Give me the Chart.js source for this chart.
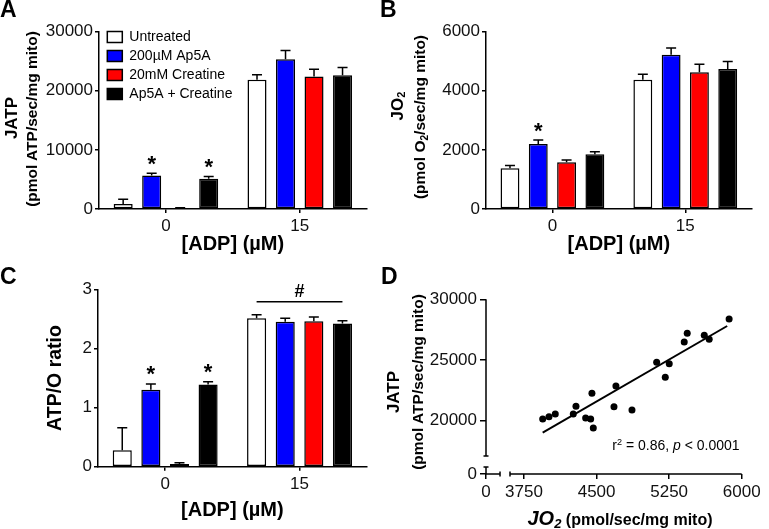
<!DOCTYPE html>
<html><head><meta charset="utf-8">
<script src="https://cdn.jsdelivr.net/npm/chart.js@4.4.0/dist/chart.umd.min.js"></script>
<style>
html,body{margin:0;padding:0;background:#fff;}
#wrap{position:relative;width:769px;height:529px;overflow:hidden;font-family:'Liberation Sans',Arial,Helvetica,sans-serif;color:#000;}
canvas{position:absolute;}
.t{position:absolute;white-space:nowrap;font-weight:bold;line-height:1;}
.rot{transform:translate(-50%,-50%) rotate(-90deg);}
.ctr{transform:translate(-50%,-50%);}
.letter{font-size:23px;}
sub{font-size:0.65em;vertical-align:-0.25em;line-height:0;}
sup{font-size:0.65em;vertical-align:0.5em;line-height:0;}
</style></head><body><div id="wrap">
<canvas id="cA" width="384" height="260" style="left:0;top:0"></canvas>
<canvas id="cB" width="385" height="260" style="left:384px;top:0"></canvas>
<canvas id="cC" width="384" height="269" style="left:0;top:260px"></canvas>
<canvas id="cD" width="385" height="269" style="left:384px;top:260px"></canvas>

<div class="t letter" style="left:0;top:-2px">A</div>
<div class="t letter" style="left:380px;top:-2px">B</div>
<div class="t letter" style="left:0;top:265px">C</div>
<div class="t letter" style="left:381px;top:265px">D</div>

<div class="t rot" style="left:11px;top:118px;font-size:17px">JATP</div>
<div class="t rot" style="left:32px;top:118.5px;font-size:15.5px">(pmol ATP/sec/mg mito)</div>

<div class="t rot" style="left:397px;top:106px;font-size:17px">JO<sub>2</sub></div>
<div class="t rot" style="left:420px;top:116.5px;font-size:15.5px">(pmol O<sub>2</sub>/sec/mg mito)</div>

<div class="t rot" style="left:393px;top:391.5px;font-size:17px">JATP</div>
<div class="t rot" style="left:418px;top:381.7px;font-size:15.5px">(pmol ATP/sec/mg mito)</div>

<div class="t ctr" style="left:620px;top:518px"><span style="font-size:20px;font-style:italic">JO<sub>2</sub></span> <span style="font-size:16px">(pmol/sec/mg mito)</span></div>
<div class="t ctr" style="left:676px;top:445px;font-size:14px;font-weight:normal">r<sup>2</sup> = 0.86, <i>p</i> &lt; 0.0001</div>
</div>
<script>
// ---------- shared categories / series ----------
const categories = ['0', '15'];
const seriesNames = ['Untreated', '200\u00b5M Ap5A', '20mM Creatine', 'Ap5A + Creatine'];
const seriesColors = ['#ffffff', '#0000ff', '#ff0000', '#000000'];

// ---------- Panel A: JATP ----------
const jatpUntreated   = [850, 21850];
const jatpAp5A        = [5650, 25350];
const jatpCreatine    = [150, 22400];
const jatpAp5ACreat   = [5100, 22650];
const jatpErrUntreated = [800, 850];
const jatpErrAp5A      = [400, 1450];
const jatpErrCreatine  = [50, 1250];
const jatpErrAp5ACreat = [390, 1300];
const jatpMarks = [['', ''], ['*', ''], ['', ''], ['*', '']];
const jatpTicks = [0, 10000, 20000, 30000];

// ---------- Panel B: JO2 ----------
const jo2Untreated   = [1380, 4370];
const jo2Ap5A        = [2200, 5220];
const jo2Creatine    = [1580, 4630];
const jo2Ap5ACreat   = [1850, 4735];
const jo2ErrUntreated = [90, 190];
const jo2ErrAp5A      = [135, 225];
const jo2ErrCreatine  = [80, 270];
const jo2ErrAp5ACreat = [90, 260];
const jo2Marks = [['', ''], ['*', ''], ['', ''], ['', '']];
const jo2Ticks = [0, 2000, 4000, 6000];

// ---------- Panel C: ATP/O ratio ----------
const ratioUntreated   = [0.28, 2.51];
const ratioAp5A        = [1.30, 2.45];
const ratioCreatine    = [0.045, 2.46];
const ratioAp5ACreat   = [1.39, 2.42];
const ratioErrUntreated = [0.38, 0.06];
const ratioErrAp5A      = [0.10, 0.06];
const ratioErrCreatine  = [0.02, 0.07];
const ratioErrAp5ACreat = [0.045, 0.05];
const ratioMarks = [['', ''], ['*', ''], ['', ''], ['*', '']];
const ratioTicks = [0, 1, 2, 3];
const ratioBracketValue = 2.79;
const ratioBracketLabel = '#';

// ---------- Panel D: correlation ----------
const dJO2  = [3943, 4008, 4073, 4259, 4287, 4452, 4387, 4439, 4466, 4700, 4680, 4866, 5121, 5251, 5210, 5406, 5437, 5613, 5664, 5870];
const dJATP = [20140, 20330, 20552, 20552, 21186, 22257, 20222, 20140, 19399, 22858, 21153, 20881, 24811, 24695, 23575, 26483, 27200, 27035, 26706, 28378];
const fitJO2  = [3943, 5850];
const fitJATP = [19012, 27800];
const dXTickValues = [3750, 4500, 5250, 6000];
const dXTickLabels = ['0', '3750', '4500', '5250', '6000'];
const dYTickValues = [20000, 25000, 30000];
const dYTickLabels = ['0', '20000', '25000', '30000'];
// broken-axis positions (in axis units)
const dXZero = 3357, dXBreakLeft = 3502, dXBreakRight = 3605;
const dYZero = 15610, dYBreakBottom = 16187, dYBreakTop = 17092;

// ---------- setup ----------
Chart.defaults.font.family = "'Liberation Sans', Arial, Helvetica, sans-serif";
Chart.defaults.color = '#111';

const errorBarPlugin = {
  id: 'errorBars',
  afterDatasetsDraw(chart, args, o) {
    if (!o || !o.errors) return;
    const ctx = chart.ctx, ys = chart.scales.y;
    ctx.save();
    ctx.strokeStyle = '#000'; ctx.lineWidth = 1.5; ctx.fillStyle = '#000';
    chart.data.datasets.forEach((ds, i) => {
      const meta = chart.getDatasetMeta(i);
      meta.data.forEach((bar, j) => {
        const top = ys.getPixelForValue(ds.data[j] + o.errors[i][j]);
        ctx.beginPath();
        ctx.moveTo(bar.x, bar.y); ctx.lineTo(bar.x, top);
        ctx.moveTo(bar.x - 5, top); ctx.lineTo(bar.x + 5, top);
        ctx.stroke();
        const m = o.marks && o.marks[i][j];
        if (m) {
          ctx.font = "bold 22px 'Liberation Sans', Arial, sans-serif";
          ctx.textAlign = 'center'; ctx.textBaseline = 'alphabetic';
          ctx.fillText(m, bar.x, top - 2.5);
        }
      });
    });
    if (o.bracket) {
      const n = chart.data.datasets.length;
      const b0 = chart.getDatasetMeta(0).data[o.bracket.category];
      const b1 = chart.getDatasetMeta(n - 1).data[o.bracket.category];
      const y = ys.getPixelForValue(o.bracket.value);
      ctx.beginPath(); ctx.lineWidth = 1.5;
      ctx.moveTo(b0.x, y); ctx.lineTo(b1.x, y); ctx.stroke();
      ctx.font = "bold 18px 'Liberation Sans', Arial, sans-serif";
      ctx.textAlign = 'center'; ctx.textBaseline = 'alphabetic';
      ctx.fillText(o.bracket.label, (b0.x + b1.x) / 2, y - 5);
    }
    ctx.restore();
  }
};

const legendShift = {
  id: 'legendShift',
  afterLayout(chart, args, o) {
    if (chart.legend && o && o.dx !== undefined) {
      chart.legend.left = chart.chartArea.left + o.dx;
      chart.legend.top = chart.chartArea.top + o.dy;
    }
  }
};

const brokenAxes = {
  id: 'brokenAxes',
  afterDraw(chart, args, o) {
    if (!o || !o.on) return;
    const ctx = chart.ctx, xs = chart.scales.x, ys = chart.scales.y;
    const x0 = xs.getPixelForValue(dXZero), y0 = ys.getPixelForValue(dYZero);
    ctx.save(); ctx.strokeStyle = '#000'; ctx.lineWidth = 1.5;
    ctx.beginPath();
    const yTop = ys.getPixelForValue(ys.max), yBT = ys.getPixelForValue(dYBreakTop), yBB = ys.getPixelForValue(dYBreakBottom);
    ctx.moveTo(x0, yTop); ctx.lineTo(x0, yBT);
    ctx.moveTo(x0 - 2.5, yBT); ctx.lineTo(x0 + 2.5, yBT);
    ctx.moveTo(x0 - 2.5, yBB); ctx.lineTo(x0 + 2.5, yBB);
    ctx.moveTo(x0, yBB); ctx.lineTo(x0, y0);
    const xBL = xs.getPixelForValue(dXBreakLeft), xBR = xs.getPixelForValue(dXBreakRight), xEnd = xs.getPixelForValue(xs.max);
    ctx.moveTo(x0, y0); ctx.lineTo(xBL, y0);
    ctx.moveTo(xBL, y0 - 2.5); ctx.lineTo(xBL, y0 + 2.5);
    ctx.moveTo(xBR, y0 - 2.5); ctx.lineTo(xBR, y0 + 2.5);
    ctx.moveTo(xBR, y0); ctx.lineTo(xEnd, y0);
    ctx.stroke(); ctx.restore();
  }
};

Chart.register(errorBarPlugin, legendShift, brokenAxes);

const axisGrid = { display: true, drawOnChartArea: false, drawTicks: true, tickLength: 4, color: '#000', lineWidth: 1.5 };
const tickFont = { size: 17 };

function makeBar(id, seriesData, errors, marks, yTicks, opt) {
  const datasets = seriesNames.map((n, i) => ({
    label: n, data: seriesData[i], backgroundColor: seriesColors[i], borderColor: '#000',
    borderWidth: 1.5, borderSkipped: false, categoryPercentage: 0.852, barPercentage: 0.667
  }));
  return new Chart(document.getElementById(id), {
    type: 'bar',
    data: { labels: categories, datasets },
    options: {
      responsive: false, animation: false,
      layout: { padding: opt.padding },
      plugins: {
        tooltip: { enabled: false },
        legend: opt.legend ? {
          display: true, position: 'chartArea', align: 'start',
          labels: { boxWidth: 15, boxHeight: 11, padding: 5, color: '#000', font: { size: 14 } }
        } : { display: false },
        legendShift: opt.legend ? { dx: 3.3, dy: -6.7 } : {},
        errorBars: { errors, marks, bracket: opt.bracket }
      },
      scales: {
        x: {
          grid: Object.assign({}, axisGrid, { offset: false }),
          border: { display: true, color: '#000', width: 1.5 },
          ticks: { font: tickFont, padding: 3, maxRotation: 0, color: '#111' },
          title: { display: true, text: '[ADP] (\u00b5M)', color: '#000', font: { size: 20, weight: 'bold' }, padding: { top: 0, bottom: opt.xTitlePad } },
          afterFit(s) { s.height = opt.xHeight; }
        },
        y: {
          min: yTicks[0], max: yTicks[yTicks.length - 1],
          afterBuildTicks(s) { s.ticks = yTicks.map(v => ({ value: v })); },
          grid: axisGrid,
          border: { display: true, color: '#000', width: 1.5 },
          ticks: { font: tickFont, padding: 2, color: '#111', callback: (v) => String(v) },
          title: opt.yTitle ? { display: true, text: opt.yTitle, color: '#000', font: { size: 19.5, weight: 'bold' }, padding: { top: 4, bottom: 0 } } : { display: false },
          afterFit(s) { s.width = opt.yWidth; }
        }
      }
    }
  });
}

makeBar('cA', [jatpUntreated, jatpAp5A, jatpCreatine, jatpAp5ACreat],
  [jatpErrUntreated, jatpErrAp5A, jatpErrCreatine, jatpErrAp5ACreat], jatpMarks, jatpTicks,
  { padding: { left: 0, top: 31.7, right: 17.3, bottom: 0 }, yWidth: 99, xHeight: 51, xTitlePad: 3.3, legend: true });

makeBar('cB', [jo2Untreated, jo2Ap5A, jo2Creatine, jo2Ap5ACreat],
  [jo2ErrUntreated, jo2ErrAp5A, jo2ErrCreatine, jo2ErrAp5ACreat], jo2Marks, jo2Ticks,
  { padding: { left: 0, top: 31.7, right: 17.3, bottom: 0 }, yWidth: 102, xHeight: 51, xTitlePad: 3.3 });

makeBar('cC', [ratioUntreated, ratioAp5A, ratioCreatine, ratioAp5ACreat],
  [ratioErrUntreated, ratioErrAp5A, ratioErrCreatine, ratioErrAp5ACreat], ratioMarks, ratioTicks,
  { padding: { left: 40, top: 29.3, right: 17.3, bottom: 0 }, yWidth: 58, xHeight: 62.3, xTitlePad: 7,
    yTitle: 'ATP/O ratio', bracket: { category: 1, value: ratioBracketValue, label: ratioBracketLabel } });

new Chart(document.getElementById('cD'), {
  type: 'scatter',
  data: {
    datasets: [
      { label: 'JATP vs JO2', data: dJO2.map((x, i) => ({ x, y: dJATP[i] })), pointRadius: 3.5,
        pointBackgroundColor: '#000', pointBorderColor: '#000', pointBorderWidth: 0, showLine: false },
      { label: 'fit', data: fitJO2.map((x, i) => ({ x, y: fitJATP[i] })), showLine: true,
        borderColor: '#000', borderWidth: 2, pointRadius: 0 }
    ]
  },
  options: {
    responsive: false, animation: false,
    layout: { padding: { left: 0, top: 39.3, right: 27.3, bottom: 0 } },
    plugins: { legend: { display: false }, tooltip: { enabled: false }, brokenAxes: { on: true } },
    scales: {
      x: {
        type: 'linear', min: dXZero, max: dXTickValues[dXTickValues.length - 1],
        afterBuildTicks(s) { s.ticks = [dXZero].concat(dXTickValues).map(v => ({ value: v })); },
        ticks: { autoSkip: false, maxRotation: 0, font: tickFont, padding: 3, color: '#111', callback: (v, i) => dXTickLabels[i] },
        grid: { display: true, drawOnChartArea: false, drawTicks: true, tickLength: 5, color: '#000', lineWidth: 1.5 },
        border: { display: false },
        afterFit(s) { s.height = 55; }
      },
      y: {
        type: 'linear', min: dYZero, max: dYTickValues[dYTickValues.length - 1],
        afterBuildTicks(s) { s.ticks = [dYZero].concat(dYTickValues).map(v => ({ value: v })); },
        ticks: { autoSkip: false, font: tickFont, padding: 3, color: '#111', callback: (v, i) => dYTickLabels[i] },
        grid: { display: true, drawOnChartArea: false, drawTicks: true, tickLength: 6, color: '#000', lineWidth: 1.5 },
        border: { display: false },
        afterFit(s) { s.width = 102; }
      }
    }
  }
});
</script>
</body></html>
